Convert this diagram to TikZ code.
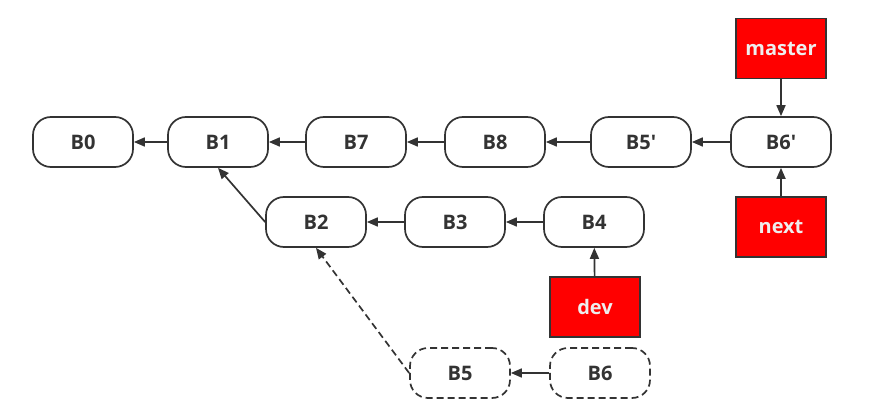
\documentclass[tikz,border=0pt]{standalone}
\usepackage{fontspec}
\setmainfont{Open Sans}
\usetikzlibrary{arrows.meta}
\definecolor{ln}{HTML}{333333}
\definecolor{lbl}{HTML}{EEEEEE}
\tikzset{
  commit/.style={draw=ln, line width=1.7pt, rounded corners=18pt, minimum width=100pt, minimum height=50pt, inner sep=0pt, text=ln, font=\fontsize{20}{24}\selectfont\bfseries, fill=white},
  ghost/.style={commit, dash pattern=on 7pt off 4pt},
  ref/.style={draw=ln, line width=1.7pt, fill=red, minimum width=90pt, minimum height=60pt, inner sep=0pt, text=lbl, font=\fontsize{20}{24}\selectfont\bfseries},
  link/.style={draw=ln, line width=1.7pt, -{Triangle[length=11pt,width=9pt]}},
}
\begin{document}
\begin{tikzpicture}[x=1pt,y=-1pt]
\useasboundingbox (0,0) rectangle (874,411);
\node[commit] (B0) at (83,142) {B0};
\node[commit] (B1) at (218,142) {B1};
\node[commit] (B7) at (356,142) {B7};
\node[commit] (B8) at (495,142) {B8};
\node[commit] (B5p) at (641,142) {B5\textquotesingle};
\node[commit] (B6p) at (781,142) {B6\textquotesingle};
\node[commit] (B2) at (316,222) {B2};
\node[commit] (B3) at (455,222) {B3};
\node[commit] (B4) at (594,222) {B4};
\node[ghost] (B5) at (460,373) {B5};
\node[ghost] (B6) at (600,373) {B6};
\node[ref] (master) at (781,48.5) {master};
\node[ref] (next) at (781,227) {next};
\node[ref] (dev) at (595,307) {dev};
\draw[link] (B1) -- (B0);
\draw[link] (B7) -- (B1);
\draw[link] (B8) -- (B7);
\draw[link] (B5p) -- (B8);
\draw[link] (B6p) -- (B5p);
\draw[link] (B3) -- (B2);
\draw[link] (B4) -- (B3);
\draw[link] (B6) -- (B5);
\draw[link] (B2.west) -- (B1.south);
\draw[link, dash pattern=on 7pt off 4pt] (B5.west) -- (B2.south);
\draw[link] (master) -- (B6p);
\draw[link] (next) -- (B6p);
\draw[link] (dev) -- (B4);
\end{tikzpicture}
\end{document}
